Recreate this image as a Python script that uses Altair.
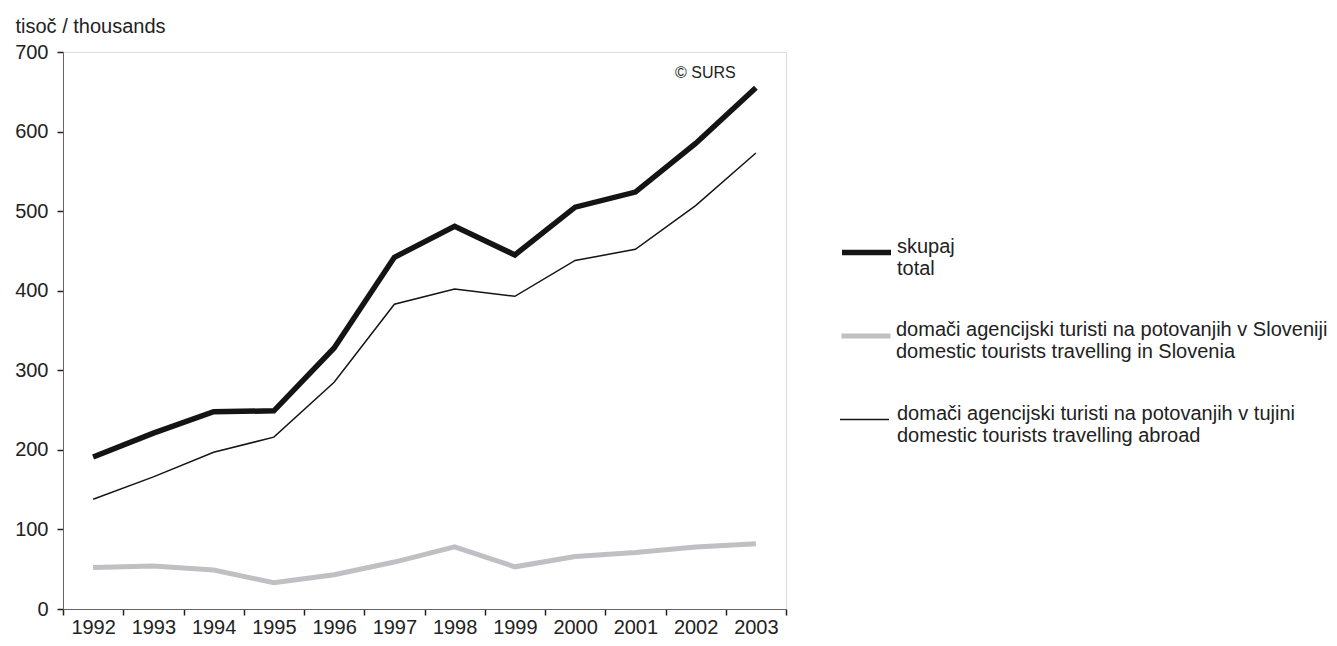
import altair as alt
import pandas as pd

years = [str(y) for y in range(1992, 2004)]
total = [191, 221, 248, 249, 328, 442, 481, 445, 505, 524, 585, 655]
slovenia = [52, 54, 49, 33, 43, 59, 78, 53, 66, 71, 78, 82]
abroad = [138, 166, 197, 216, 285, 383, 402, 393, 438, 452, 507, 573]

series_names = [
    "skupaj|total",
    "domači agencijski turisti na potovanjih v Sloveniji|domestic tourists travelling in Slovenia",
    "domači agencijski turisti na potovanjih v tujini|domestic tourists travelling abroad",
]
series_values = [total, slovenia, abroad]
series_colors = ["#141414", "#c0c0c4", "#141414"]
series_widths = [5.5, 5, 1.5]
legend_y = [173, 257, 342]
label_offsets = [3, 3, 7]

rows = []
for name, vals in zip(series_names, series_values):
    for y, v in zip(years, vals):
        rows.append({"year": y, "value": v, "series": name})
df = pd.DataFrame(rows)

FONT = "Liberation Sans"
TXT = "#222222"
AX = "#666666"

x_enc = alt.X(
    "year:O",
    bandPosition=0.5,
    scale=alt.Scale(type="band", paddingInner=0, paddingOuter=0),
    axis=alt.Axis(
        title=None, labelAngle=0, tickBand="extent", tickSize=6,
        labelPadding=2, labelFontSize=20, labelFont=FONT, labelColor=TXT,
        domainColor=AX, tickColor=TXT, tickWidth=1.5, grid=False,
    ),
)
y_enc = alt.Y(
    "value:Q",
    scale=alt.Scale(domain=[0, 700], nice=False),
    axis=alt.Axis(
        title="tisoč / thousands", titleAngle=0, titleAlign="left",
        titleBaseline="alphabetic", titleX=-48, titleY=-20,
        titleFont=FONT, titleFontSize=20, titleFontWeight="normal", titleColor=TXT,
        values=[0, 100, 200, 300, 400, 500, 600, 700], tickSize=6,
        labelPadding=9, labelFontSize=20, labelFont=FONT, labelColor=TXT,
        domainColor=AX, tickColor=TXT, tickWidth=1.5, grid=False,
    ),
)

draw_order = [1, 2, 0]
layers = []
for i in draw_order:
    name = series_names[i]
    layer = alt.Chart(df).transform_filter(
        alt.datum.series == name
    ).mark_line(strokeWidth=series_widths[i], strokeJoin="miter").encode(
        x=x_enc,
        y=y_enc,
        color=alt.Color(
            "series:N",
            scale=alt.Scale(domain=[name], range=[series_colors[i]]),
            legend=alt.Legend(
                title=None, orient="none", legendX=776, legendY=legend_y[i],
                symbolType="stroke", symbolSize=2401,
                symbolStrokeWidth=series_widths[i],
                labelExpr="split(datum.label, '|')",
                labelFont=FONT, labelFontSize=20, labelColor=TXT, labelLimit=600,
                labelOffset=label_offsets[i], padding=0, labelBaseline="alphabetic",
            ),
        ),
        order=alt.Order("year:O"),
    )
    layers.append(layer)

note = alt.Chart(pd.DataFrame({"t": ["© SURS"]})).mark_text(
    align="left", baseline="alphabetic", font=FONT, fontSize=16, color=TXT
).encode(text="t:N", x=alt.value(612), y=alt.value(26))

chart = alt.layer(*layers, note).resolve_scale(color="independent").properties(
    width=723, height=557,
    padding={"left": 55, "top": 44, "right": 543, "bottom": 29},
    autosize=alt.AutoSizeParams(type="none"),
).configure_view(stroke=AX, strokeWidth=1.5).configure(background="white")

chart.save("out.html", embed_options={"renderer": "svg", "actions": False})
